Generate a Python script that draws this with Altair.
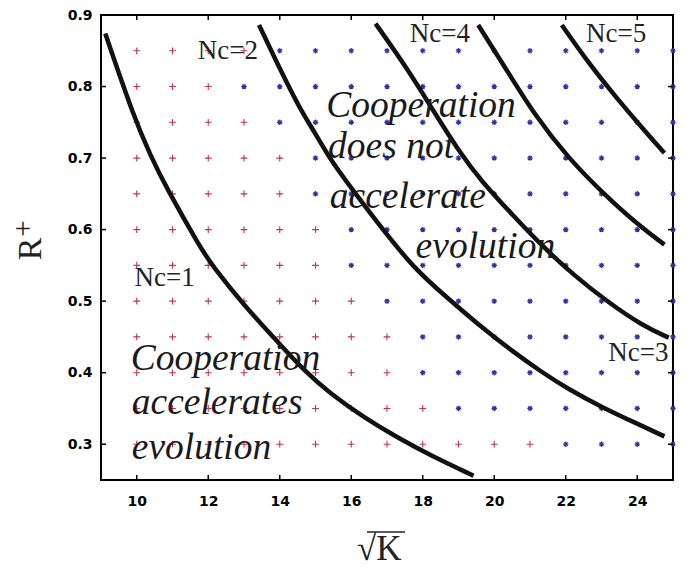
import altair as alt
import pandas as pd

# ---------------- data ----------------
k_cols = list(range(10, 26))
r_rows = [0.85, 0.80, 0.75, 0.70, 0.65, 0.60, 0.55, 0.50, 0.45, 0.40, 0.35, 0.30]
# 'r' = red plus, 'b' = blue star, one char per column k = 10..25
row_marks = [
    "rrrrbbbbbbbbbbbb",  # 0.85
    "rrrbbbbbbbbbbbbb",  # 0.80
    "rrrrbbbbbbbbbbbb",  # 0.75
    "rrrrrbbbbbbbbbbb",  # 0.70
    "rrrrrbbbbbbbbbbb",  # 0.65
    "rrrrrrbbbbbbbbbb",  # 0.60
    "rrrrrrbbbbbbbbbb",  # 0.55
    "rrrrrrrbbbbbbbbb",  # 0.50
    "rrrrrrrrbbbbbbbb",  # 0.45
    "rrrrrrrrbbbbbbbb",  # 0.40
    "rrrrrrrrrbbbbbbb",  # 0.35
    "rrrrrrrrrrrrbbbb",  # 0.30
]

nc1_k = [9.12, 9.92, 10.39, 10.81, 11.8, 12.11, 13.0, 14.0, 14.7, 15.41, 16.34, 17.3, 18.23, 19.42]
nc1_r = [0.874, 0.757, 0.703, 0.660, 0.573, 0.550, 0.494, 0.440, 0.402, 0.371, 0.338, 0.309, 0.284, 0.256]
nc2_k = [13.42, 14.0, 14.56, 15.04, 15.41, 16.06, 16.82, 17.75, 18.7, 19.63, 20.48, 21.32, 22.07, 23.0, 23.94, 24.76]
nc2_r = [0.886, 0.825, 0.769, 0.731, 0.698, 0.654, 0.604, 0.546, 0.504, 0.464, 0.431, 0.401, 0.377, 0.352, 0.330, 0.311]
nc3_k = [16.68, 17.57, 18.31, 18.98, 19.63, 20.56, 21.32, 22.25, 23.2, 24.14, 24.88]
nc3_r = [0.888, 0.825, 0.765, 0.712, 0.668, 0.618, 0.578, 0.535, 0.498, 0.466, 0.449]
nc4_k = [19.55, 20.3, 21.13, 22.07, 23.1, 24.04, 24.76]
nc4_r = [0.886, 0.827, 0.760, 0.700, 0.648, 0.606, 0.579]
nc5_k = [21.89, 22.65, 23.39, 24.14, 24.76]
nc5_r = [0.886, 0.832, 0.786, 0.742, 0.707]

nc_labels = ["Nc=1", "Nc=2", "Nc=3", "Nc=4", "Nc=5"]
nc_label_k = [10.78, 12.55, 24.03, 18.48, 23.41]
nc_label_r = [0.533, 0.849, 0.428, 0.873, 0.873]

region_text = ["Cooperation", "does not", "accelerate", "evolution",
               "Cooperation", "accelerates", "evolution"]
region_k = [15.30, 15.35, 15.40, 17.80, 9.83, 9.86, 9.86]
region_r = [0.757, 0.700, 0.630, 0.561, 0.404, 0.342, 0.279]

x_ticks = [10, 12, 14, 16, 18, 20, 22, 24]
y_ticks = [0.3, 0.4, 0.5, 0.6, 0.7, 0.8, 0.9]

# ---------------- chart ----------------
W, H = 572, 465
SERIF = "Liberation Serif"
SANS = "DejaVu Sans"

xs = alt.Scale(domain=[9, 25], nice=False, zero=False)
ys = alt.Scale(domain=[0.25, 0.9], nice=False, zero=False)
xaxis = alt.Axis(values=x_ticks, ticks=False, domain=False, grid=False, title=None,
                 labelFont=SANS, labelFontSize=14, labelFontWeight="bold",
                 labelColor="black", labelPadding=14)
yaxis = alt.Axis(values=y_ticks, ticks=False, domain=False, grid=False, title=None,
                 labelFont=SANS, labelFontSize=14, labelFontWeight="bold",
                 labelColor="black", labelPadding=9, format=".1f")
X = alt.X("k:Q", scale=xs, axis=xaxis)
Y = alt.Y("r:Q", scale=ys, axis=yaxis)

grid_rows = []
for r, marks in zip(r_rows, row_marks):
    for k, m in zip(k_cols, marks):
        grid_rows.append({"k": k, "r": r, "m": m})
grid = pd.DataFrame(grid_rows)

plus_path = "M-1,0L1,0M0,-1L0,1"
star_path = "M-1,0L1,0M0,-1L0,1M-0.7,-0.7L0.7,0.7M-0.7,0.7L0.7,-0.7"

red_pts = alt.Chart(grid[grid.m == "r"]).mark_point(
    shape=plus_path, filled=False, size=46, strokeWidth=1.1, color="#c8304e", opacity=1
).encode(x=X, y=Y)
blue_pts = alt.Chart(grid[grid.m == "b"]).mark_point(
    shape=star_path, filled=False, size=30, strokeWidth=1.2, color="#3030a8", opacity=1
).encode(x=X, y=Y)

curve_rows = []
for name, ks, rs in [("1", nc1_k, nc1_r), ("2", nc2_k, nc2_r), ("3", nc3_k, nc3_r),
                     ("4", nc4_k, nc4_r), ("5", nc5_k, nc5_r)]:
    for k, r in zip(ks, rs):
        curve_rows.append({"c": name, "k": k, "r": r})
curves = alt.Chart(pd.DataFrame(curve_rows)).mark_line(
    color="#111111", strokeWidth=4.5, interpolate="basis"
).encode(x=X, y=Y, detail="c:N")

nc_df = pd.DataFrame({"t": nc_labels, "k": nc_label_k, "r": nc_label_r})
nc_text = alt.Chart(nc_df).mark_text(
    font=SERIF, fontSize=27, color="#222222", align="center", baseline="middle"
).encode(x=X, y=Y, text="t:N")

reg_df = pd.DataFrame({"t": region_text, "k": region_k, "r": region_r})
reg_text = alt.Chart(reg_df).mark_text(
    font=SERIF, fontSize=37.5, fontStyle="italic", color="#1a1a1a",
    align="left", baseline="alphabetic"
).encode(x=X, y=Y, text="t:N")

xt = pd.DataFrame({"k": x_ticks})
yt = pd.DataFrame({"r": y_ticks})
tick_bot = alt.Chart(xt).mark_rule(color="black", strokeWidth=1.5).encode(
    x=X, y=alt.value(H), y2=alt.value(H - 5))
tick_top = alt.Chart(xt).mark_rule(color="black", strokeWidth=1.5).encode(
    x=X, y=alt.value(0), y2=alt.value(5))
tick_left = alt.Chart(yt).mark_rule(color="black", strokeWidth=1.5).encode(
    y=Y, x=alt.value(0), x2=alt.value(5))
tick_right = alt.Chart(yt).mark_rule(color="black", strokeWidth=1.5).encode(
    y=Y, x=alt.value(W), x2=alt.value(W - 5))

one = pd.DataFrame({"a": [0]})
r_title = alt.Chart(one).mark_text(
    text="R", font=SERIF, fontSize=34, angle=270, color="#222222",
    align="center", baseline="middle"
).encode(x=alt.value(-70), y=alt.value(234))
plus_title = alt.Chart(one).mark_text(
    text="+", font=SERIF, fontSize=29, color="#222222",
    align="center", baseline="middle"
).encode(x=alt.value(-78), y=alt.value(214))
k_title = alt.Chart(one).mark_text(
    text="√K", font=SERIF, fontSize=35, color="#222222",
    align="left", baseline="alphabetic"
).encode(x=alt.value(256), y=alt.value(545))
k_bar = alt.Chart(one).mark_rule(color="#222222", strokeWidth=1.5).encode(
    x=alt.value(266), x2=alt.value(304), y=alt.value(517))

chart = alt.layer(
    red_pts, blue_pts, curves, nc_text, reg_text,
    tick_bot, tick_top, tick_left, tick_right,
    r_title, plus_title, k_title, k_bar
).properties(
    width=W, height=H,
    autosize=alt.AutoSizeParams(type="none"),
    padding={"left": 93, "top": 7, "right": 4, "bottom": 88},
).configure_view(stroke="black", strokeWidth=2)

chart.save("out.html", embed_options={"renderer": "svg", "actions": False})
